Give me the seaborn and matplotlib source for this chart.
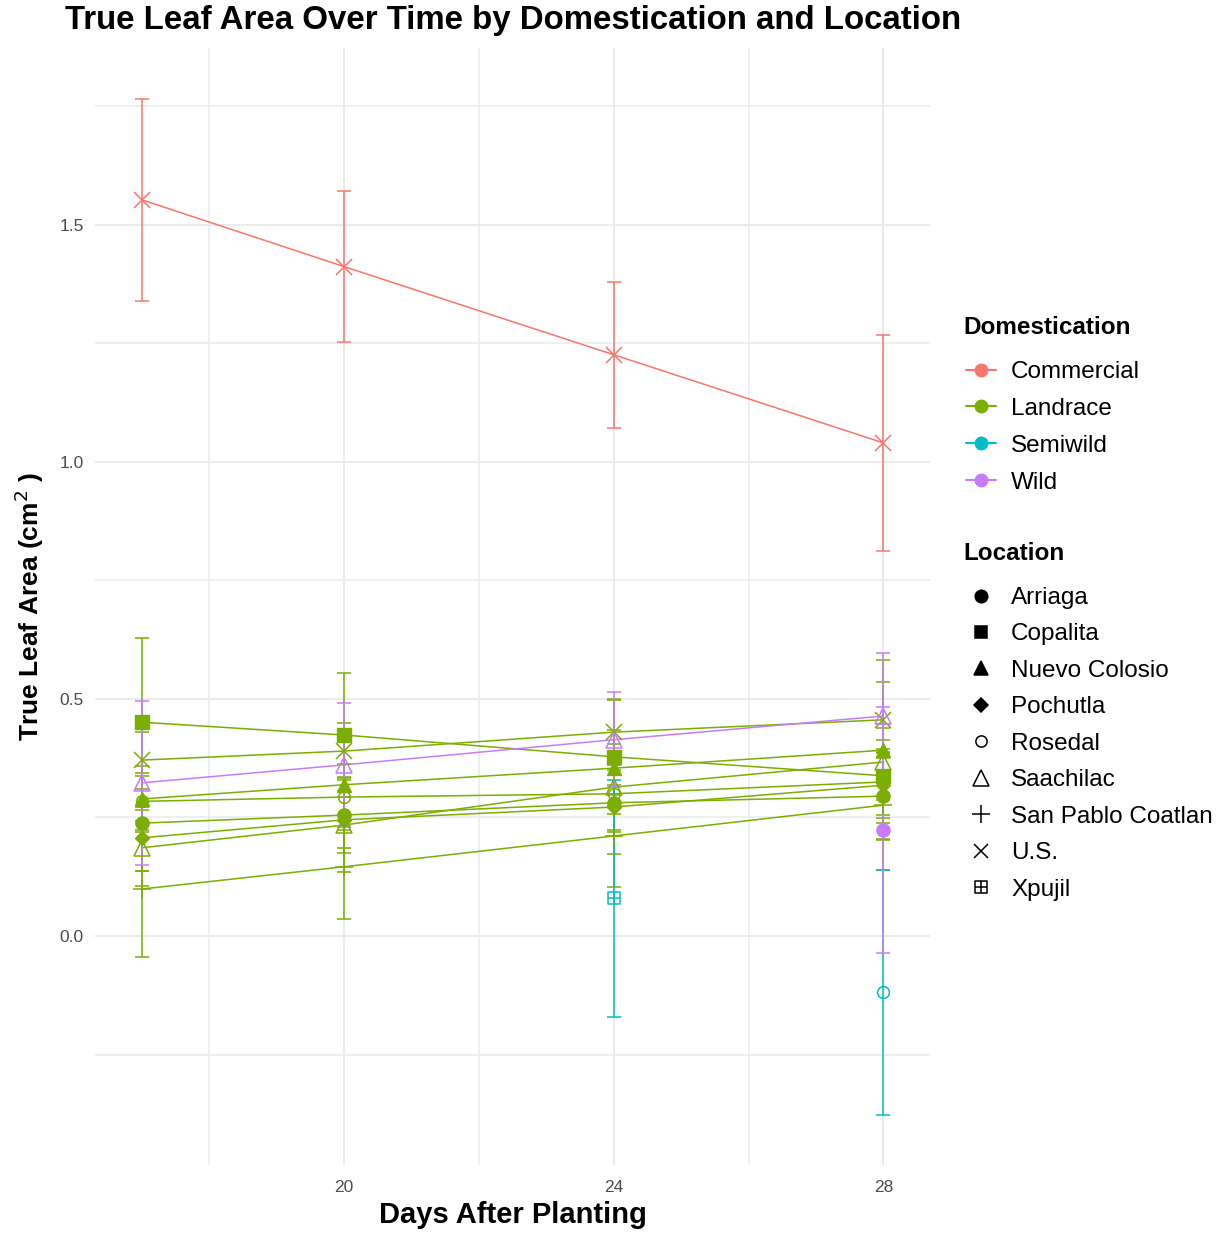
import numpy as np
import pandas as pd
import matplotlib
matplotlib.use("Agg")
import matplotlib.pyplot as plt
from matplotlib.path import Path
from matplotlib.lines import Line2D
import seaborn as sns

# ---------------- data ----------------
days = [17, 20, 24, 28]

# Commercial
com_us_mean = [1.553, 1.412, 1.226, 1.040]
com_us_se = [0.213, 0.160, 0.154, 0.228]

# Landrace
lan_cop_mean = [0.451, 0.424, 0.378, 0.338]
lan_cop_se = [0.178, 0.131, 0.120, 0.100]
lan_us_mean = [0.371, 0.390, 0.430, 0.456]
lan_us_se = [0.060, 0.060, 0.070, 0.080]
lan_nc_mean = [0.289, 0.319, 0.354, 0.392]
lan_nc_se = [0.070, 0.090, 0.080, 0.190]
lan_ros_mean = [0.284, 0.293, 0.300, 0.325]
lan_ros_se = [0.060, 0.070, 0.080, 0.070]
lan_arr_mean = [0.238, 0.255, 0.281, 0.295]
lan_arr_se = [0.100, 0.080, 0.070, 0.090]
lan_poc_mean = [0.207, 0.245, 0.272, 0.318]
lan_poc_se = [0.070, 0.060, 0.100, 0.070]
lan_saa_mean = [0.186, 0.234, 0.314, 0.367]
lan_saa_se = [0.080, 0.100, 0.090, 0.080]
lan_spc_mean = [0.099, 0.146, 0.211, 0.276]
lan_spc_se = [0.143, 0.110, 0.108, 0.137]

# Semiwild
semi_xpu_day = [24]
semi_xpu_mean = [0.080]
semi_xpu_se = [0.250]
semi_ros_day = [28]
semi_ros_mean = [-0.119]
semi_ros_se = [0.258]

# Wild
wild_saa_mean = [0.323, 0.361, 0.414, 0.464]
wild_saa_se = [0.173, 0.130, 0.100, 0.133]
wild_arr_day = [28]
wild_arr_mean = [0.224]
wild_arr_se = [0.260]

domestications = ["Commercial", "Landrace", "Semiwild", "Wild"]
locations = ["Arriaga", "Copalita", "Nuevo Colosio", "Pochutla", "Rosedal",
             "Saachilac", "San Pablo Coatlan", "U.S.", "Xpujil"]

series = [
    ("Commercial", "U.S.", days, com_us_mean, com_us_se),
    ("Landrace", "Copalita", days, lan_cop_mean, lan_cop_se),
    ("Landrace", "U.S.", days, lan_us_mean, lan_us_se),
    ("Landrace", "Nuevo Colosio", days, lan_nc_mean, lan_nc_se),
    ("Landrace", "Rosedal", days, lan_ros_mean, lan_ros_se),
    ("Landrace", "Arriaga", days, lan_arr_mean, lan_arr_se),
    ("Landrace", "Pochutla", days, lan_poc_mean, lan_poc_se),
    ("Landrace", "Saachilac", days, lan_saa_mean, lan_saa_se),
    ("Landrace", "San Pablo Coatlan", days, lan_spc_mean, lan_spc_se),
    ("Semiwild", "Xpujil", semi_xpu_day, semi_xpu_mean, semi_xpu_se),
    ("Semiwild", "Rosedal", semi_ros_day, semi_ros_mean, semi_ros_se),
    ("Wild", "Saachilac", days, wild_saa_mean, wild_saa_se),
    ("Wild", "Arriaga", wild_arr_day, wild_arr_mean, wild_arr_se),
]

rows = []
for dom, loc, d, m, s in series:
    for di, mi, si in zip(d, m, s):
        rows.append(dict(day=di, area=mi, se=si, Domestication=dom,
                         Location=loc, group=f"{dom}|{loc}"))
df = pd.DataFrame(rows)

# ---------------- style ----------------
palette = dict(zip(domestications, ["#F8766D", "#7CAE00", "#00BFC4", "#C77CFF"]))

# square with a plus (ggplot shape 12)
box_plus = Path(
    [(-1, -1), (1, -1), (1, 1), (-1, 1), (-1, -1), (0, -1), (0, 1), (-1, 0), (1, 0)],
    [Path.MOVETO, Path.LINETO, Path.LINETO, Path.LINETO, Path.CLOSEPOLY,
     Path.MOVETO, Path.LINETO, Path.MOVETO, Path.LINETO])

# marker, size, filled
marker_spec = {
    "Arriaga": ("o", 9.5, True),
    "Copalita": ("s", 9.5, True),
    "Nuevo Colosio": ("^", 10.5, True),
    "Pochutla": ("D", 7.0, True),
    "Rosedal": ("o", 8.5, False),
    "Saachilac": ("^", 12.0, False),
    "San Pablo Coatlan": ("+", 13.0, False),
    "U.S.": ("x", 11.0, False),
    "Xpujil": (box_plus, 9.0, False),
}

sns.set_theme(style="whitegrid")
plt.rcParams["font.family"] = ["Liberation Sans", "DejaVu Sans"]
plt.rcParams["text.color"] = "black"
plt.rcParams["axes.labelcolor"] = "black"

fig = plt.figure(figsize=(12.25, 12.34), dpi=100)
ax = fig.add_axes([95 / 1225, 1 - 1165 / 1234, (930 - 95) / 1225, (1165 - 48) / 1234])

# lines
sns.lineplot(data=df, x="day", y="area", hue="Domestication", units="group",
             estimator=None, palette=palette, hue_order=domestications,
             legend=False, lw=1.1, ax=ax, sort=True)

# error bars and points
for dom, loc, d, m, s in series:
    col = palette[dom]
    ax.errorbar(d, m, yerr=s, fmt="none", ecolor=col, elinewidth=1.1,
                capsize=5, capthick=1.1, zorder=3)
for dom, loc, d, m, s in series:
    col = palette[dom]
    mk, ms, filled = marker_spec[loc]
    ax.plot(d, m, linestyle="none", marker=mk, markersize=ms,
            markerfacecolor=col if filled else "none",
            markeredgecolor=col, markeredgewidth=1.0 if filled else 1.1,
            zorder=4)

# axes
ax.set_xlim(16.31, 28.69)
ax.set_ylim(-0.483, 1.873)
ax.set_xticks([20, 24, 28])
ax.set_xticks([18, 22, 26], minor=True)
ax.set_yticks([0.0, 0.5, 1.0, 1.5])
ax.set_yticks([-0.25, 0.25, 0.75, 1.25, 1.75], minor=True)
ax.set_xticklabels(["20", "24", "28"])
ax.set_yticklabels(["0.0", "0.5", "1.0", "1.5"])
ax.set_facecolor("white")
for sp in ax.spines.values():
    sp.set_visible(False)
ax.grid(True, which="major", color="#EBEBEB", linewidth=1.4)
ax.grid(True, which="minor", color="#EBEBEB", linewidth=1.1)
ax.tick_params(axis="both", which="both", length=0, labelsize=12.5,
               labelcolor="#4D4D4D", pad=8)
ax.tick_params(axis="x", pad=11)
ax.set_xlabel("Days After Planting", fontsize=21, fontweight="bold", labelpad=4)
ax.set_ylabel(r"True Leaf Area (cm$^{2}$ )", fontsize=19, fontweight="bold",
              labelpad=10)
ax.set_axisbelow(True)

fig.text(65 / 1225, 1 - 21 / 1234, "True Leaf Area Over Time by Domestication and Location",
         fontsize=23.8, fontweight="bold", ha="left", va="center")

# legends (titles drawn as text so spacing matches)
fig.text(963 / 1225, 1 - 328 / 1234, "Domestication", fontsize=17.5,
         fontweight="bold", ha="left", va="center")
fig.text(963 / 1225, 1 - 554 / 1234, "Location", fontsize=17.5,
         fontweight="bold", ha="left", va="center")

dom_handles = [Line2D([0], [0], color=palette[d], lw=1.5, marker="o",
                      markersize=9, markerfacecolor=palette[d],
                      markeredgecolor=palette[d]) for d in domestications]
fig.legend(dom_handles, domestications,
           loc="upper left", bbox_to_anchor=(966 / 1225, 1 - 361 / 1234),
           frameon=False, fontsize=17.5, borderpad=0,
           handlelength=1.25, handletextpad=0.6, labelspacing=0.61,
           borderaxespad=0)

loc_handles = []
for loc in locations:
    mk, ms, filled = marker_spec[loc]
    loc_handles.append(Line2D([0], [0], linestyle="none", marker=mk,
                              markersize=ms * 0.95,
                              markerfacecolor="black" if filled else "none",
                              markeredgecolor="black", markeredgewidth=1.1))
fig.legend(loc_handles, locations,
           loc="upper left", bbox_to_anchor=(966 / 1225, 1 - 587 / 1234),
           frameon=False, fontsize=17.5, borderpad=0,
           handlelength=1.25, handletextpad=0.6, labelspacing=0.595,
           borderaxespad=0)

fig.savefig("out.png", dpi=100, facecolor="white")
